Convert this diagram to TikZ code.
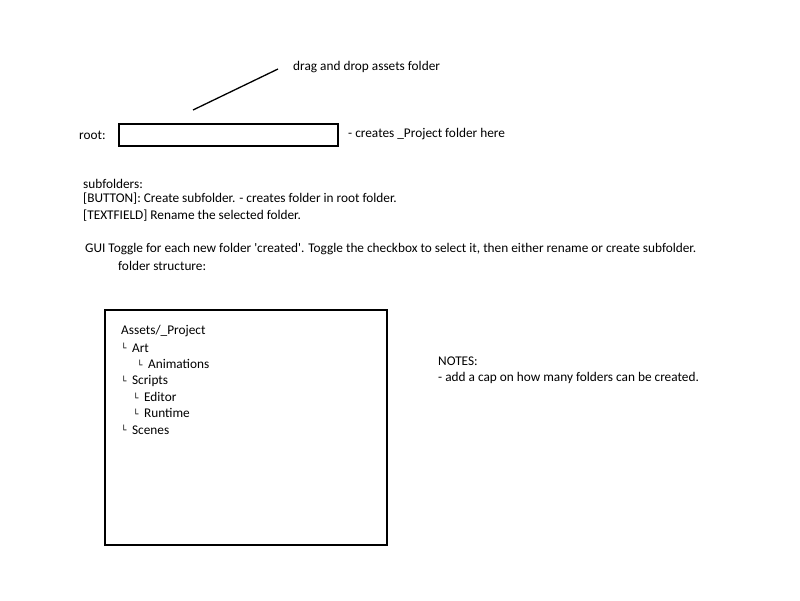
\documentclass[tikz,border=0pt]{standalone}
\usepackage{fontspec}
\setmainfont{Carlito}
\newfontfamily\boxfont{DejaVu Sans}
\usepackage{tikz}
\newcommand{\treel}{{\boxfont\fontsize{9}{9}\selectfont\raisebox{0.5pt}{└}}\hspace{5.5pt}}
\tikzset{
    txt/.style={anchor=west, inner sep=0pt, yshift=-1pt, font=\fontsize{13.3}{16.5}\selectfont},
    field/.style={draw=black, line width=1.3pt}}

\begin{document}
\begin{tikzpicture}[x=1pt, y=-1pt]

                    \useasboundingbox (0,0) rectangle (800,600);

                    \coordinate (dragA) at (193,110);
                    \coordinate (dragB) at (278,69);
                    \node[txt] (drag) at (293,66) {drag and drop assets folder};

                    \node[txt] (root) at (79,134) {root:};
                    \draw[field] (119,124) rectangle (338,146);
                    \node[txt] (creates) at (348,133) {- creates \_Project folder here};

                    \draw[line width=1.3pt] (dragA) -- (dragB);

                    \node[txt] (sub) at (83,183) {subfolders:};
                    \node[txt] (button) at (83,198) {[BUTTON]: Create subfolder. - creates folder in root folder.};
                    \node[txt] (textfield) at (83,215) {[TEXTFIELD] Rename the selected folder.};

                    \node[txt] (toggle) at (85,248) {GUI Toggle for each new folder \textquotesingle created\textquotesingle. Toggle the checkbox to select it, then either rename or create subfolder.};
                    \node[txt] (struct) at (118,265) {folder structure:};

                    \draw[field] (105,310) rectangle (387,545);
                    \node[txt] (assets) at (121,330) {Assets/\_Project};
                    \node[txt] (art) at (121,347) {\treel Art};
                    \node[txt] (anim) at (137,363) {\treel Animations};
                    \node[txt] (scripts) at (121,380) {\treel Scripts};
                    \node[txt] (editor) at (133,396) {\treel Editor};
                    \node[txt] (runtime) at (133,412) {\treel Runtime};
                    \node[txt] (scenes) at (121,429) {\treel Scenes};

                    \node[txt] (notes) at (438,360) {NOTES:};
                    \node[txt] (cap) at (438,377) {- add a cap on how many folders can be created.};

\end{tikzpicture}
\end{document}
